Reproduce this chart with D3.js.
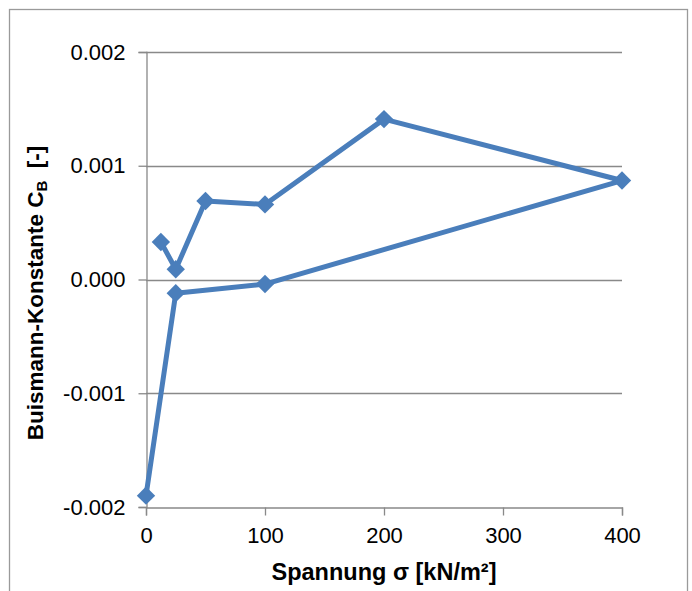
<!DOCTYPE html>
<html>
<head>
<meta charset="utf-8">
<script src="https://cdn.jsdelivr.net/npm/d3@7/dist/d3.min.js"></script>
<style>
  html, body { margin: 0; padding: 0; background: #fff; }
  svg { display: block; font-family: "Liberation Sans", Arial, sans-serif; }
</style>
</head>
<body>
<svg id="chart" width="692" height="591"></svg>
<script>
// Measured path of the Buismann constant against applied stress (load/unload sequence)
const stress = [12.5, 25, 50, 100, 200, 400, 100, 25, 0];
const cbValues = [0.00033, 0.00009, 0.00069, 0.00066, 0.00141, 0.00087, -0.00004, -0.00012, -0.0019];

const xTicks = [0, 100, 200, 300, 400];
const yTicks = [-0.002, -0.001, 0.000, 0.001, 0.002];
const xTitle = "Spannung σ [kN/m²]";
const yTitleMain = "Buismann-Konstante C";
const yTitleSub = "B";
const yTitleTail = "  [-]";

const W = 692, H = 591;
const plot = { left: 146, right: 622, top: 52, bottom: 507 };
const blue = "#4a7ebb";
const gridGray = "#898989";

const svg = d3.select("#chart");

// chart frame
svg.append("rect")
  .attr("x", 9.5).attr("y", 9.5)
  .attr("width", 678).attr("height", H + 10)
  .attr("fill", "#fff")
  .attr("stroke", "#9a9a9a").attr("stroke-width", 1.3);

const x = d3.scaleLinear().domain([0, 400]).range([plot.left, plot.right]);
const y = d3.scaleLinear().domain([-0.002, 0.002]).range([plot.bottom, plot.top]);

const fmtY = v => d3.format(".3f")(v).replace("−", "-");

// horizontal gridlines
svg.append("g")
  .selectAll("line")
  .data(yTicks.filter(v => v !== -0.002))
  .join("line")
  .attr("x1", plot.left).attr("x2", plot.right)
  .attr("y1", d => Math.round(y(d)) + 0.5).attr("y2", d => Math.round(y(d)) + 0.5)
  .attr("stroke", gridGray).attr("stroke-width", 1.3);

// y axis
const yAxis = svg.append("g")
  .attr("transform", `translate(${plot.left + 0.5},0)`)
  .call(d3.axisLeft(y).tickValues(yTicks).tickFormat(fmtY).tickSize(8).tickPadding(13));
yAxis.select(".domain").attr("stroke", gridGray).attr("stroke-width", 1.3);
yAxis.selectAll(".tick line").attr("stroke", gridGray).attr("stroke-width", 1.3);
yAxis.selectAll(".tick text")
  .attr("font-size", 22).attr("fill", "#000")
  .attr("font-family", "Liberation Sans, Arial, sans-serif");

// x axis (at the bottom of the plot)
const xAxis = svg.append("g")
  .attr("transform", `translate(0,${plot.bottom + 0.5})`)
  .call(d3.axisBottom(x).tickValues(xTicks).tickFormat(d3.format("d")).tickSize(8).tickPadding(12));
xAxis.select(".domain").attr("stroke", gridGray).attr("stroke-width", 1.3);
xAxis.selectAll(".tick line").attr("stroke", gridGray).attr("stroke-width", 1.3);
xAxis.selectAll(".tick text")
  .attr("font-size", 22).attr("fill", "#000")
  .attr("font-family", "Liberation Sans, Arial, sans-serif");

// data line
const pts = stress.map((s, i) => [s, cbValues[i]]);
svg.append("path")
  .datum(pts)
  .attr("fill", "none")
  .attr("stroke", blue)
  .attr("stroke-width", 5)
  .attr("stroke-linejoin", "round")
  .attr("d", d3.line().x(d => x(d[0])).y(d => y(d[1])));

// diamond markers
const diamond = d3.symbol().type(d3.symbolDiamond2).size(215);
svg.append("g")
  .selectAll("path")
  .data(pts)
  .join("path")
  .attr("transform", d => `translate(${x(d[0])},${y(d[1])})`)
  .attr("d", diamond)
  .attr("fill", blue);

// axis titles
svg.append("text")
  .attr("x", 384).attr("y", 580)
  .attr("text-anchor", "middle")
  .attr("font-size", 23.5).attr("font-weight", "bold")
  .text(xTitle);

const yt = svg.append("text")
  .attr("transform", "translate(43,293) rotate(-90)")
  .attr("text-anchor", "middle")
  .attr("font-size", 22.5).attr("font-weight", "bold")
  .attr("xml:space", "preserve")
  .style("white-space", "pre");
yt.append("tspan").text(yTitleMain);
yt.append("tspan").attr("font-size", 15).attr("dy", 4).text(yTitleSub);
yt.append("tspan").attr("dy", -4).text(yTitleTail);
</script>
</body>
</html>
